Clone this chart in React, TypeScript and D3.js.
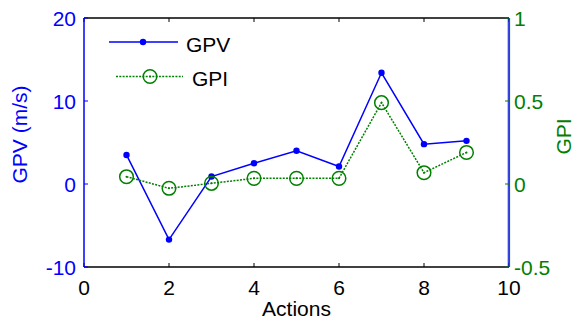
import * as d3 from 'd3';

// actions 1..9
const actions = [1, 2, 3, 4, 5, 6, 7, 8, 9];
const gpv = [3.5, -6.7, 0.9, 2.5, 4.0, 2.1, 13.4, 4.8, 5.2];
const gpi = [0.044, -0.026, 0.004, 0.034, 0.034, 0.034, 0.49, 0.068, 0.19];
const xTicks = [0, 2, 4, 6, 8, 10];
const leftTicks = [-10, 0, 10, 20];
const rightTicks = [-0.5, 0, 0.5, 1];

const W = 576;
const H = 326;
const m = { top: 18, right: 67, bottom: 59, left: 84 };
const font = '"Liberation Sans", Arial, sans-serif';
const fs = 21;
const BLUE = '#0000ff';
const GREEN = '#008000';

export default function App() {
  const iw = W - m.left - m.right;
  const ih = H - m.top - m.bottom;

  const x = d3.scaleLinear().domain([0, 10]).range([m.left, m.left + iw]);
  const yL = d3.scaleLinear().domain([-10, 20]).range([m.top + ih, m.top]);
  const yR = d3.scaleLinear().domain([-0.5, 1]).range([m.top + ih, m.top]);

  const left = x(0);
  const right = x(10);
  const top = yL(20);
  const bottom = yL(-10);

  const gpvLine = d3.line<number>()
    .x((_, i) => x(actions[i]))
    .y(d => yL(d))(gpv) || '';
  const gpiLine = d3.line<number>()
    .x((_, i) => x(actions[i]))
    .y(d => yR(d))(gpi) || '';

  return (
    <svg width={W} height={H} style={{ position: 'absolute', left: 0, top: 0, background: '#fff' }}>
      {/* top / bottom axes */}
      <line x1={left} x2={right} y1={top} y2={top} stroke="#000" strokeWidth={1.5} />
      <line x1={left} x2={right} y1={bottom} y2={bottom} stroke="#000" strokeWidth={1.5} />
      {xTicks.map(t => (
        <g key={t}>
          <line x1={x(t)} x2={x(t)} y1={bottom} y2={bottom - 4} stroke="#000" />
          <line x1={x(t)} x2={x(t)} y1={top} y2={top + 4} stroke="#000" />
          <text x={x(t)} y={bottom + 28} textAnchor="middle" fontFamily={font} fontSize={fs} fill="#000">{t}</text>
        </g>
      ))}
      <text x={(left + right) / 2} y={bottom + 49} textAnchor="middle" fontFamily={font} fontSize={fs} fill="#000">Actions</text>

      {/* left axis */}
      <line x1={left} x2={left} y1={top} y2={bottom} stroke={BLUE} strokeWidth={1.5} />
      {leftTicks.map(t => (
        <g key={t}>
          <line x1={left} x2={left + 4} y1={yL(t)} y2={yL(t)} stroke={BLUE} />
          <text x={left - 8} y={yL(t) + 8} textAnchor="end" fontFamily={font} fontSize={fs} fill={BLUE}>{t}</text>
        </g>
      ))}
      <text transform={`translate(27,${(top + bottom) / 2 - 8}) rotate(-90)`} textAnchor="middle" fontFamily={font} fontSize={fs} fill={BLUE}>GPV (m/s)</text>

      {/* right axis */}
      <line x1={right - 0.75} x2={right - 0.75} y1={top} y2={bottom} stroke={BLUE} strokeWidth={1} />
      <line x1={right + 0.5} x2={right + 0.5} y1={top} y2={bottom} stroke={GREEN} strokeWidth={1.2} />
      {rightTicks.map(t => (
        <g key={t}>
          <line x1={right - 4} x2={right} y1={yR(t)} y2={yR(t)} stroke={GREEN} />
          <text x={right + 5} y={yR(t) + 8} textAnchor="start" fontFamily={font} fontSize={fs} fill={GREEN}>{t}</text>
        </g>
      ))}
      <text transform={`translate(571,${(top + bottom) / 2 - 6}) rotate(-90)`} textAnchor="middle" fontFamily={font} fontSize={fs} fill={GREEN}>GPI</text>

      {/* GPV series */}
      <path d={gpvLine} fill="none" stroke={BLUE} strokeWidth={1.5} />
      {gpv.map((v, i) => (
        <circle key={i} cx={x(actions[i])} cy={yL(v)} r={3.2} fill={BLUE} />
      ))}

      {/* GPI series */}
      <path d={gpiLine} fill="none" stroke={GREEN} strokeWidth={1.5} strokeDasharray="2,1.3" />
      {gpi.map((v, i) => (
        <g key={i}>
          <circle cx={x(actions[i])} cy={yR(v)} r={6.8} fill="none" stroke={GREEN} strokeWidth={1.5} />
          <circle cx={x(actions[i])} cy={yR(v)} r={1} fill={GREEN} />
        </g>
      ))}

      {/* legend */}
      <line x1={109} x2={178} y1={42} y2={42} stroke={BLUE} strokeWidth={1.5} />
      <circle cx={143} cy={42} r={3.2} fill={BLUE} />
      <text x={186} y={52} fontFamily={font} fontSize={fs} fill="#000">GPV</text>
      <line x1={116} x2={183} y1={76.5} y2={76.5} stroke={GREEN} strokeWidth={1.5} strokeDasharray="2,1.3" />
      <circle cx={150} cy={76.5} r={6.8} fill="none" stroke={GREEN} strokeWidth={1.5} />
      <circle cx={150} cy={76.5} r={1} fill={GREEN} />
      <text x={192} y={86} fontFamily={font} fontSize={fs} fill="#000">GPI</text>
    </svg>
  );
}
